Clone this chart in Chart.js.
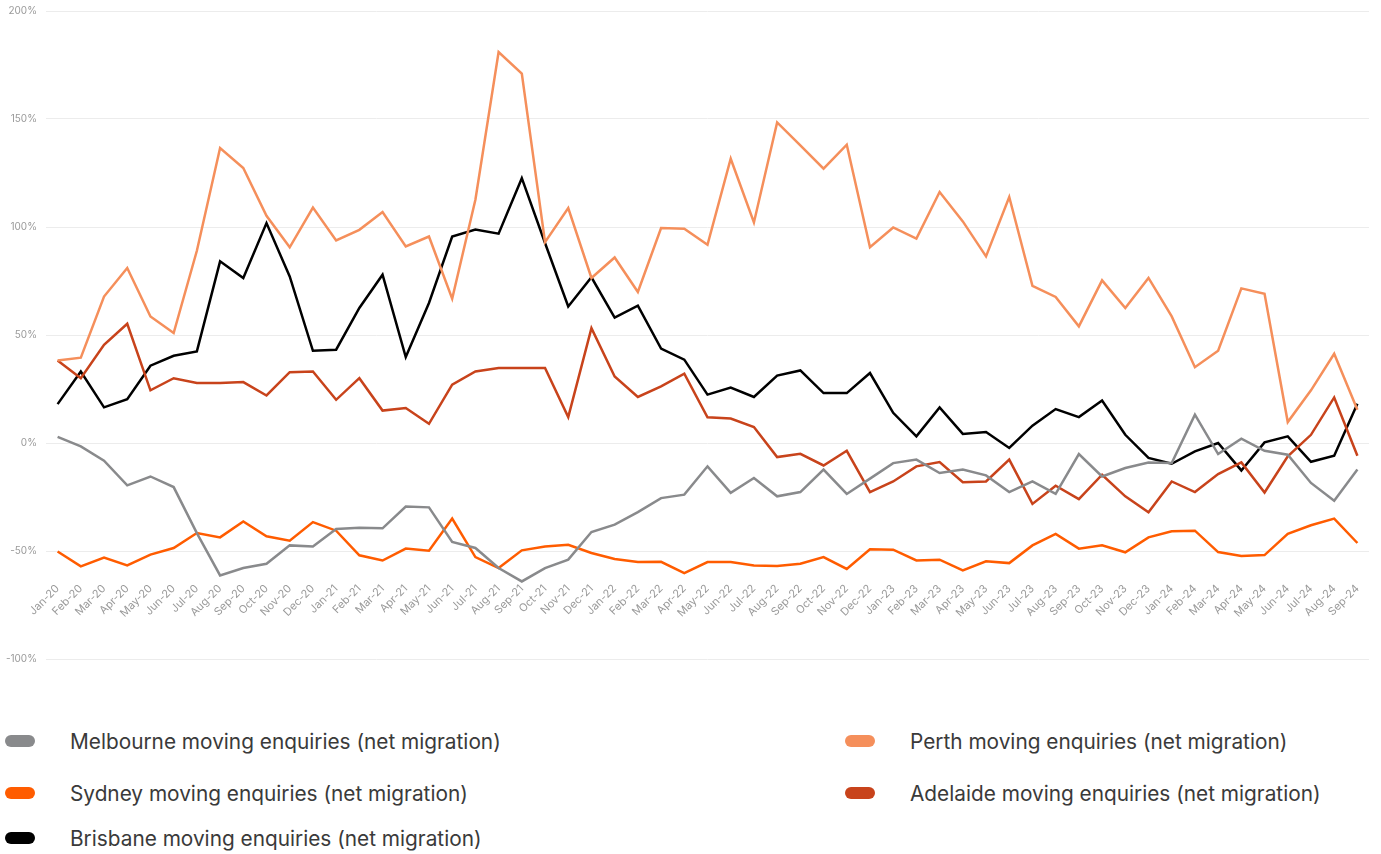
<!DOCTYPE html>
<html>
<head>
<meta charset="utf-8">
<title>Moving enquiries (net migration)</title>
<script src="https://cdn.jsdelivr.net/npm/chart.js@4.4.1/dist/chart.umd.min.js"></script>
<style>
  body { margin: 0; background: #fff; font-family: Inter, "Noto Sans", sans-serif; overflow: hidden; }
  .chart-box { position: relative; width: 1381px; height: 684px; margin-top: -4px; }
  .legend {
    position: absolute; top: 715px; left: 0;
    display: grid;
    grid-template-columns: 840px 540px;
    grid-template-rows: 52px 52px 38px;
  }
  .legend-item { display: flex; align-items: center; font-size: 20.8px; color: #3a3a3a; white-space: nowrap; }
  .legend-item .swatch { width: 30px; height: 12px; border-radius: 6px; margin-left: 5px; margin-right: 35px; }
</style>
</head>
<body>
<div class="chart-box"><canvas id="migration"></canvas></div>
<div class="legend" id="legend"></div>
<script>
const months = [
  "Jan-20", "Feb-20", "Mar-20", "Apr-20", "May-20", "Jun-20", "Jul-20", "Aug-20", "Sep-20", "Oct-20", "Nov-20", "Dec-20",
  "Jan-21", "Feb-21", "Mar-21", "Apr-21", "May-21", "Jun-21", "Jul-21", "Aug-21", "Sep-21", "Oct-21", "Nov-21", "Dec-21",
  "Jan-22", "Feb-22", "Mar-22", "Apr-22", "May-22", "Jun-22", "Jul-22", "Aug-22", "Sep-22", "Oct-22", "Nov-22", "Dec-22",
  "Jan-23", "Feb-23", "Mar-23", "Apr-23", "May-23", "Jun-23", "Jul-23", "Aug-23", "Sep-23", "Oct-23", "Nov-23", "Dec-23",
  "Jan-24", "Feb-24", "Mar-24", "Apr-24", "May-24", "Jun-24", "Jul-24", "Aug-24", "Sep-24"
];

// net migration, % change
const melbourne = [
  2.8, -1.6, -8.2, -19.6, -15.5, -20.4, -41.7, -61.3, -57.9, -55.9, -47.4, -47.9,
  -39.8, -39.2, -39.5, -29.4, -29.8, -45.8, -48.6, -57.9, -64.1, -57.9, -54.0, -41.2,
  -37.8, -32.0, -25.5, -23.9, -10.8, -23.1, -16.2, -24.7, -22.7, -12.3, -23.6, -16.5,
  -9.3, -7.7, -13.9, -12.3, -15.0, -22.7, -17.8, -23.5, -5.1, -15.5, -11.6, -9.0,
  -9.3, 13.1, -5.1, 2.0, -3.6, -5.4, -18.5, -26.7, -12.3
];
const sydney = [
  -50.2, -57.1, -53.0, -56.7, -51.7, -48.6, -41.7, -43.7, -36.3, -43.2, -45.2, -36.6,
  -40.6, -52.0, -54.4, -48.9, -49.9, -35.0, -52.8, -57.9, -49.7, -47.9, -47.1, -50.9,
  -53.7, -55.1, -55.0, -60.2, -55.1, -55.1, -56.7, -56.9, -55.9, -52.8, -58.3, -49.2,
  -49.4, -54.4, -54.0, -59.0, -54.8, -55.6, -47.4, -42.1, -48.9, -47.4, -50.6, -43.7,
  -40.9, -40.6, -50.5, -52.3, -51.9, -42.1, -38.1, -35.0, -46.3
];
const brisbane = [
  18.0, 33.1, 16.5, 20.3, 35.8, 40.4, 42.4, 84.1, 76.4, 101.8, 77.1, 42.7,
  43.2, 62.5, 77.9, 39.8, 64.8, 95.6, 98.8, 96.9, 122.6, 92.6, 63.2, 76.7,
  58.1, 63.6, 43.7, 38.6, 22.4, 25.7, 21.3, 31.2, 33.6, 23.1, 23.1, 32.4,
  14.0, 3.1, 16.5, 4.2, 5.1, -2.3, 8.0, 15.7, 12.0, 19.7, 3.8, -6.9,
  -9.6, -3.9, 0.0, -12.7, 0.3, 3.1, -8.7, -5.9, 18.2
];
const perth = [
  38.2, 39.5, 67.8, 81.0, 58.6, 50.9, 89.0, 136.6, 127.3, 105.2, 90.6, 109.0,
  93.8, 98.7, 106.9, 91.0, 95.6, 66.8, 112.6, 181.0, 171.0, 93.0, 108.8, 76.4,
  85.9, 69.9, 99.5, 99.2, 91.8, 131.6, 102.1, 148.4, 137.8, 127.0, 138.1, 90.6,
  99.8, 94.6, 116.2, 102.6, 86.4, 113.9, 72.8, 67.6, 54.0, 75.3, 62.5, 76.4,
  58.6, 35.1, 42.7, 71.6, 69.1, 9.7, 24.4, 41.3, 15.4
];
const adelaide = [
  38.2, 30.0, 45.5, 55.2, 24.4, 30.0, 27.8, 27.8, 28.2, 22.0, 32.8, 33.1,
  20.0, 30.0, 15.0, 16.2, 8.9, 27.0, 33.1, 34.7, 34.7, 34.7, 12.0, 53.2,
  30.8, 21.3, 26.2, 32.1, 11.9, 11.3, 7.4, -6.5, -5.0, -10.4, -3.6, -22.7,
  -17.8, -10.8, -8.8, -18.2, -17.8, -7.7, -28.2, -19.8, -26.0, -14.7, -24.7, -32.1,
  -17.8, -22.7, -14.4, -9.0, -22.9, -6.2, 3.8, 21.1, -5.9
];

const tickColor = "#9a9a9a";

function line(label, data, color) {
  return {
    label: label,
    data: data,
    borderColor: color,
    backgroundColor: color,
    borderWidth: 2.5,
    pointRadius: 0,
    tension: 0,
  };
}

const chart = new Chart(document.getElementById("migration"), {
  type: "line",
  data: {
    labels: months,
    datasets: [
      line("Melbourne moving enquiries (net migration)", melbourne, "#898a8c"),
      line("Perth moving enquiries (net migration)", perth, "#f58f5b"),
      line("Sydney moving enquiries (net migration)", sydney, "#ff5c00"),
      line("Adelaide moving enquiries (net migration)", adelaide, "#c8431b"),
      line("Brisbane moving enquiries (net migration)", brisbane, "#000000"),
    ],
  },
  options: {
    responsive: true,
    maintainAspectRatio: false,
    animation: false,
    layout: { padding: { top: 5, right: 12, bottom: 21, left: 0 } },
    plugins: {
      legend: { display: false },
      tooltip: { enabled: false },
    },
    scales: {
      x: {
        position: { y: -63 },
        offset: true,
        grid: { display: false, drawTicks: false },
        border: { display: false },
        ticks: {
          autoSkip: false,
          minRotation: 45,
          maxRotation: 45,
          padding: 3,
          color: tickColor,
          font: { family: "Inter", size: 11 },
        },
        afterFit: (scale) => { scale.height = 0; },
      },
      y: {
        min: -100,
        max: 200,
        grid: { color: "#ececec", drawTicks: false },
        border: { display: false },
        ticks: {
          stepSize: 50,
          padding: 9,
          color: tickColor,
          font: { family: "Inter", size: 10 },
          callback: (v) => v + "%",
        },
        afterFit: (scale) => { scale.width = 46; },
      },
    },
  },
});

// legend laid out in two columns below the chart
const legendBox = document.getElementById("legend");
chart.data.datasets.forEach((ds) => {
  const item = document.createElement("div");
  item.className = "legend-item";
  const swatch = document.createElement("span");
  swatch.className = "swatch";
  swatch.style.background = ds.borderColor;
  item.appendChild(swatch);
  item.appendChild(document.createTextNode(ds.label));
  legendBox.appendChild(item);
});
</script>
</body>
</html>
